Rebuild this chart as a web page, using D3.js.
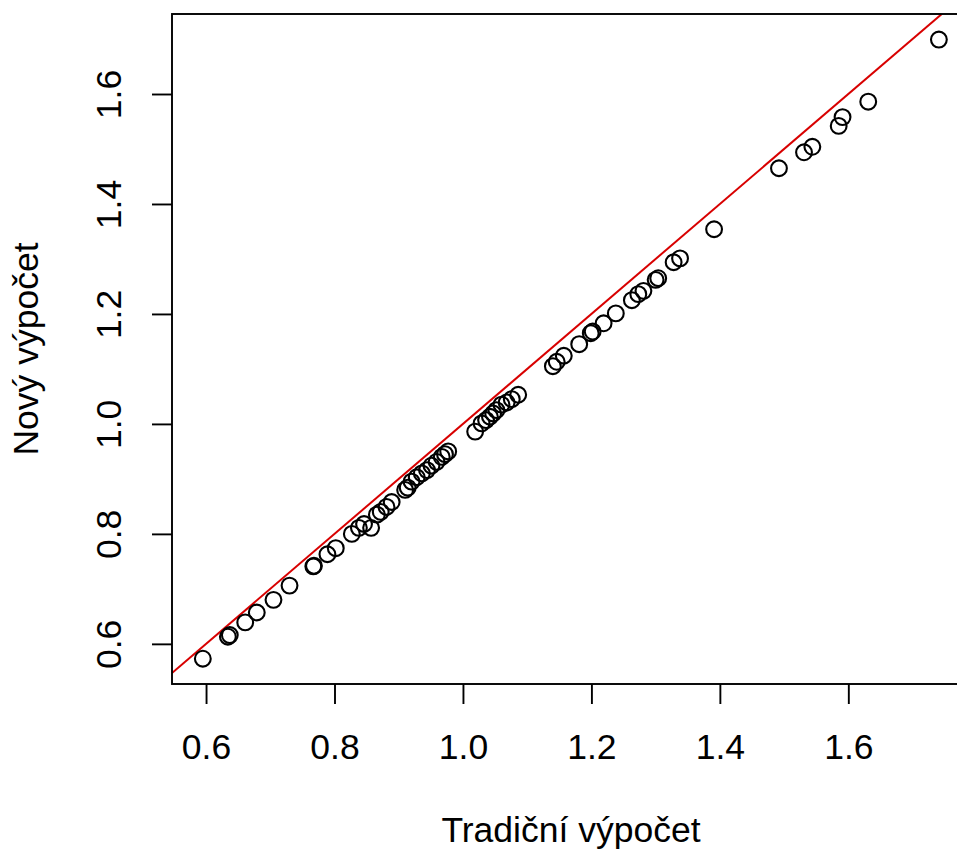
<!DOCTYPE html>
<html>
<head>
<meta charset="utf-8">
<script src="https://cdn.jsdelivr.net/npm/d3@7"></script>
<style>
  html, body { margin: 0; padding: 0; background: #fff; }
  svg { display: block; }
  text { font-family: "Liberation Sans", Arial, Helvetica, sans-serif; fill: #000; }
</style>
</head>
<body>
<svg id="chart" width="957" height="851"></svg>
<script>
// Traditional vs. new calculation, one point per case
const traditional = [
  0.595, 0.634, 0.637, 0.661, 0.679, 0.705, 0.730, 0.767, 0.768, 0.789,
  0.802, 0.827, 0.838, 0.846, 0.857, 0.866, 0.872, 0.881, 0.889, 0.910,
  0.914, 0.920, 0.928, 0.936, 0.944, 0.951, 0.959, 0.967, 0.972, 0.977,
  1.019, 1.029, 1.036, 1.042, 1.047, 1.052, 1.060, 1.068, 1.076, 1.086,
  1.140, 1.146, 1.157, 1.181, 1.199, 1.202, 1.219, 1.238, 1.263, 1.273,
  1.281, 1.300, 1.304, 1.328, 1.338, 1.391, 1.492, 1.531, 1.544, 1.585,
  1.591, 1.631, 1.741
];
const newCalc = [
  0.573, 0.613, 0.616, 0.639, 0.657, 0.680, 0.706, 0.741, 0.742, 0.763,
  0.774, 0.800, 0.811, 0.818, 0.811, 0.835, 0.840, 0.849, 0.858, 0.880,
  0.884, 0.895, 0.903, 0.910, 0.916, 0.924, 0.931, 0.940, 0.945, 0.950,
  0.986, 1.001, 1.007, 1.013, 1.019, 1.025, 1.035, 1.039, 1.045, 1.053,
  1.105, 1.113, 1.124, 1.145, 1.165, 1.168, 1.183, 1.201, 1.225, 1.236,
  1.242, 1.262, 1.265, 1.294, 1.301, 1.354, 1.465, 1.494, 1.504, 1.542,
  1.558, 1.586, 1.699
];

// Axis limits and tick values
const xLimits = [0.547, 1.791];
const yLimits = [0.527, 1.7455];
const xTicks = [0.6, 0.8, 1.0, 1.2, 1.4, 1.6];
const yTicks = [0.6, 0.8, 1.0, 1.2, 1.4, 1.6];

const xLabel = "Tradiční výpočet";
const yLabel = "Nový výpočet";

const svg = d3.select("#chart");
const W = 957, H = 851;
const plot = { left: 172, top: 14, right: 971, bottom: 684 };
const fontSize = 35.5;

svg.append("rect").attr("width", W).attr("height", H).attr("fill", "#fff");

const x = d3.scaleLinear().domain(xLimits).range([plot.left, plot.right]);
const y = d3.scaleLinear().domain(yLimits).range([plot.bottom, plot.top]);

svg.append("defs").append("clipPath").attr("id", "plotClip")
  .append("rect")
  .attr("x", plot.left).attr("y", plot.top)
  .attr("width", plot.right - plot.left).attr("height", plot.bottom - plot.top);

// Reference line y = x
svg.append("line")
  .attr("clip-path", "url(#plotClip)")
  .attr("x1", x(xLimits[0])).attr("y1", y(xLimits[0]))
  .attr("x2", x(xLimits[1])).attr("y2", y(xLimits[1]))
  .attr("stroke", "#d80000").attr("stroke-width", 2);

// Points as open circles
const pts = traditional.map((t, i) => [t, newCalc[i]]);
svg.append("g").attr("clip-path", "url(#plotClip)")
  .selectAll("circle").data(pts).join("circle")
  .attr("cx", d => x(d[0]))
  .attr("cy", d => y(d[1]))
  .attr("r", 7.9)
  .attr("fill", "none")
  .attr("stroke", "#000")
  .attr("stroke-width", 2.1);

// Bottom axis
const xAxis = d3.axisBottom(x).tickValues(xTicks).tickSize(20).tickPadding(0)
  .tickFormat(d3.format(".1f"));
const gx = svg.append("g").attr("transform", `translate(0,${plot.bottom})`).call(xAxis);
gx.select(".domain").remove();
gx.selectAll(".tick line").attr("stroke", "#000").attr("stroke-width", 1.9);
gx.selectAll(".tick text")
  .attr("y", 75).attr("dy", null)
  .attr("font-size", fontSize)
  .style("font-family", "'Liberation Sans', Arial, sans-serif")
  .attr("fill", "#000");

// Left axis, labels rotated parallel to the axis
const yAxis = d3.axisLeft(y).tickValues(yTicks).tickSize(20).tickFormat(d3.format(".1f"));
const gy = svg.append("g").attr("transform", `translate(${plot.left},0)`).call(yAxis);
gy.select(".domain").remove();
gy.selectAll(".tick line").attr("stroke", "#000").attr("stroke-width", 1.9);
gy.selectAll(".tick text")
  .attr("x", null).attr("dy", null)
  .attr("transform", "translate(-51,0) rotate(-90)")
  .attr("text-anchor", "middle")
  .attr("font-size", fontSize)
  .style("font-family", "'Liberation Sans', Arial, sans-serif")
  .attr("fill", "#000");

// Plot frame
svg.append("rect")
  .attr("x", plot.left).attr("y", plot.top)
  .attr("width", plot.right - plot.left).attr("height", plot.bottom - plot.top)
  .attr("fill", "none").attr("stroke", "#000").attr("stroke-width", 1.9);

// Axis titles
svg.append("text")
  .attr("x", 571)
  .attr("y", plot.bottom + 158)
  .attr("text-anchor", "middle")
  .attr("font-size", fontSize)
  .text(xLabel);

svg.append("text")
  .attr("transform", `translate(${plot.left - 134},${(plot.top + plot.bottom) / 2}) rotate(-90)`)
  .attr("text-anchor", "middle")
  .attr("font-size", fontSize)
  .text(yLabel);
</script>
</body>
</html>
